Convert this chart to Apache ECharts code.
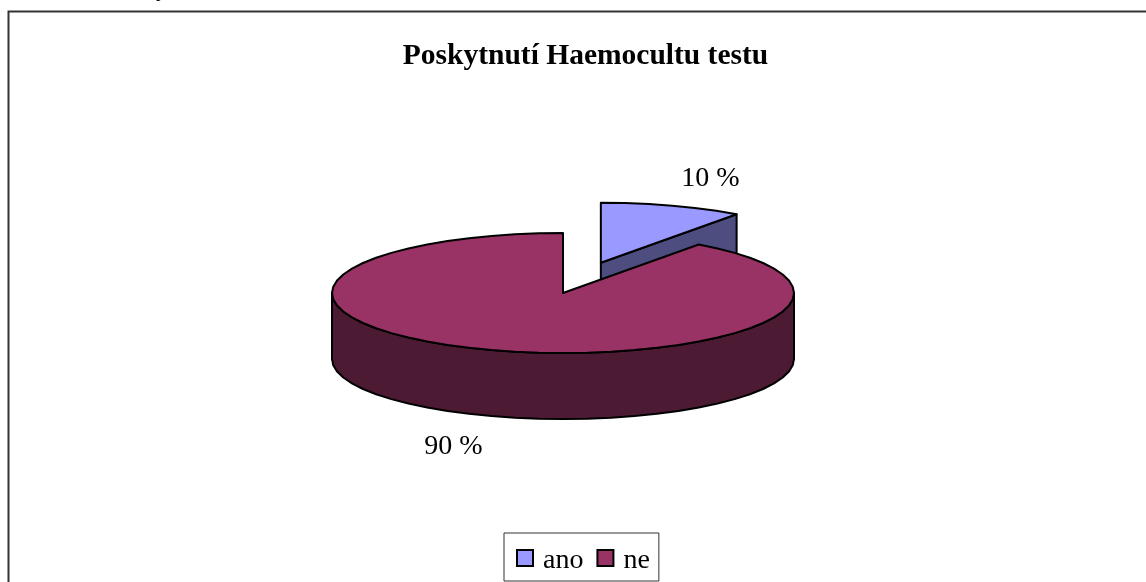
<!DOCTYPE html>
<html>
<head>
<meta charset="utf-8">
<title>Poskytnutí Haemocultu testu</title>
<script src="https://cdn.jsdelivr.net/npm/echarts@6/dist/echarts.min.js"></script>
<style>
html, body { margin: 0; padding: 0; background: #fff; }
#chart { width: 1146px; height: 582px; }
</style>
</head>
<body>
<div id="chart"></div>
<script>
var titleText = 'Poskytnutí Haemocultu testu';
var categories = ['ano', 'ne'];
var values = [10, 90];
var topColors = ['#9999ff', '#993366'];
var sideColors = ['#4d4d80', '#4d1a33'];

var serif = '"Liberation Serif", "Times New Roman", serif';

// projection of the tilted pie
var cx = 563, cy = 293, rx = 231, ry = 60, depth = 66;
var explodeBy = { ano: 0.53, ne: 0 };
var labelPos = { ano: [710.5, 179], ne: [453.5, 447] };

var total = values[0] + values[1];

function rim(c, deg, dy) {
    var a = deg * Math.PI / 180;
    return [c[0] + rx * Math.sin(a), c[1] - ry * Math.cos(a) + (dy || 0)];
}

// the reference rim is faceted, so keep the step coarse
function arcPoints(c, from, to, dy) {
    var pts = [];
    var n = Math.max(2, Math.round(Math.abs(to - from) / 6));
    for (var i = 0; i <= n; i++) {
        pts.push(rim(c, from + (to - from) * i / n, dy));
    }
    return pts;
}

function shape(points, fill) {
    return {
        type: 'polygon',
        shape: { points: points },
        style: { fill: fill, stroke: '#000', lineWidth: 2, lineJoin: 'round' }
    };
}

// one slice: its angles come from the share of the values before it
function renderSlice(params, api) {
    var idx = params.seriesIndex;
    var before = 0;
    for (var i = 0; i < idx; i++) before += values[i];
    var from = before / total * 360;
    var to = from + api.value(0) / total * 360;
    var mid = (from + to) / 2 * Math.PI / 180;
    var k = explodeBy[categories[idx]];
    var c = [cx + rx * k * Math.sin(mid), cy - ry * k * Math.cos(mid)];
    var kids = [];

    // visible wall: the front half of the rim
    var wallFrom = Math.max(from, 90), wallTo = Math.min(to, 270);
    if (wallTo > wallFrom) {
        kids.push(shape(arcPoints(c, wallFrom, wallTo).concat(arcPoints(c, wallTo, wallFrom, depth)), sideColors[idx]));
    }
    // visible wall: the cut face looking to the front right
    if (to < 90) {
        var e = rim(c, to);
        kids.push(shape([c, e, [e[0], e[1] + depth], [c[0], c[1] + depth]], sideColors[idx]));
    }
    kids.push(shape([c].concat(arcPoints(c, from, to)), topColors[idx]));

    var pos = labelPos[categories[idx]];
    kids.push({
        type: 'text',
        style: {
            text: api.value(0) + ' %',
            x: pos[0], y: pos[1],
            fill: '#000',
            font: '28px ' + serif,
            align: 'center',
            verticalAlign: 'middle'
        }
    });
    return { type: 'group', children: kids };
}

var myechart = echarts.init(document.getElementById('chart'), null, { renderer: 'canvas' });
myechart.setOption({
    animation: false,
    backgroundColor: '#fff',
    title: {
        text: titleText,
        left: 580.5,
        top: 36,
        textAlign: 'center',
        textStyle: { fontFamily: serif, fontSize: 29.5, fontWeight: 'bold', color: '#000' }
    },
    legend: {
        data: categories,
        left: 504,
        top: 533,
        padding: [14, 9, 6, 12],
        itemGap: 13,
        itemWidth: 16,
        itemHeight: 16,
        icon: 'rect',
        borderColor: '#333',
        borderWidth: 1,
        formatter: '{t|{name}}',
        textStyle: {
            color: '#000',
            rich: { t: { fontFamily: serif, fontSize: 28, color: '#000', padding: [6, 0, 0, 5] } }
        },
        selectedMode: false
    },
    graphic: [{
        type: 'rect',
        silent: true,
        z: -1,
        shape: { x: 8.5, y: 11.5, width: 1200, height: 700 },
        style: { fill: 'none', stroke: '#333', lineWidth: 2 }
    }, {
        // tail of a clipped letter above the frame
        type: 'text',
        silent: true,
        style: { text: 'y', x: 162, y: 2, fill: '#000', font: '24px ' + serif, align: 'center', verticalAlign: 'bottom' }
    }],
    series: categories.map(function (name, i) {
        return {
            type: 'custom',
            name: name,
            coordinateSystem: 'none',
            renderItem: renderSlice,
            itemStyle: { color: topColors[i], borderColor: '#000', borderWidth: 2 },
            data: [[values[i]]]
        };
    })
});
</script>
</body>
</html>
